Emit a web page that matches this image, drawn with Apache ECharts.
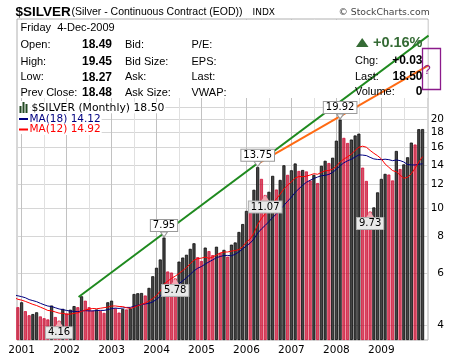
<!DOCTYPE html>
<html><head><meta charset="utf-8">
<script src="https://cdn.jsdelivr.net/npm/echarts@6/dist/echarts.min.js"></script>
<style>html,body{margin:0;padding:0;background:#fff}#c{width:460px;height:357px}</style>
</head><body><div id="c"></div>
<script>
// Monthly closes, Dec 2000 .. Dec 2009 (index 0 = Dec 2000)
const closes = [
  4.62,
  4.80, 4.48, 4.34, 4.38, 4.44, 4.30, 4.24, 4.20, 4.68, 4.28, 4.16, 4.56,
  4.40, 4.53, 4.66, 4.62, 5.03, 4.86, 4.62, 4.50, 4.54, 4.49, 4.42, 4.80,
  4.86, 4.58, 4.43, 4.56, 4.54, 4.58, 5.12, 5.15, 5.16, 5.06, 5.37, 5.88,
  6.28, 6.70, 7.95, 6.10, 6.05, 5.78, 6.59, 6.80, 6.95, 7.28, 7.60, 6.82,
  6.62, 7.35, 7.15, 6.93, 7.40, 7.05, 7.22, 6.85, 7.52, 7.65, 8.30, 8.83,
  9.78, 9.65, 11.53, 13.75, 12.55, 11.07, 11.35, 12.85, 11.55, 12.45, 13.95, 12.95,
  13.42, 14.15, 13.35, 13.45, 13.30, 12.40, 12.95, 12.15, 13.90, 14.45, 14.20, 14.80,
  16.90, 19.92, 17.27, 16.60, 17.05, 17.60, 17.85, 13.70, 12.35, 9.73, 10.05, 11.30,
  12.55, 13.05, 12.98, 12.40, 15.60, 13.55, 14.05, 14.85, 16.65, 16.40, 18.48, 18.50
];
// Closes before the visible window (Jun 1999 .. Nov 2000), used only for the moving averages
const priorCloses = [5.30, 5.40, 5.25, 5.60, 5.10, 5.15, 5.40, 5.20, 5.05, 5.00, 5.05, 4.95, 5.00, 4.90, 4.95, 4.85, 4.75, 4.65];
const yTicks = [4, 6, 8, 10, 12, 14, 16, 18, 20];
const yGrid = [4, 6, 8, 10, 12, 14, 16, 18, 20, 22];
const xYears = [2001, 2002, 2003, 2004, 2005, 2006, 2007, 2008, 2009];
// annotations: [monthIndex from Jan 2001, value]
const highMarks = [[38, 7.95], [63, 13.75], [85, 19.92]];
const lowMarks = [[10, 4.16], [41, 5.78], [65, 11.07], [93, 9.73]];
// trend lines: [monthIndex, value]
const greenTrend = [[15.2, 5.0], [108.6, 38.3]];
const orangeTrend = [[63.2, 14.17], [108.6, 30.4]];

const YMIN = 3.578, YMAX = 43.59;
const T = v => Math.log(v / YMIN);
const XMIN = -1.23, XMAX = 108.45;

const barData = closes.map((c, i) => {
  const prev = i === 0 ? priorCloses[priorCloses.length - 1] : closes[i - 1];
  const up = c >= prev;
  return {
    value: [i - 1, T(c)],
    itemStyle: up ? {color: '#464646', borderColor: '#0a0a0a', borderWidth: 0.8}
                  : {color: 'rgba(185,0,30,0.68)', borderColor: '#d80f3a', borderWidth: 0.8}
  };
});
const all = priorCloses.concat(closes);
function ma(n) {
  const out = [];
  for (let k = n - 1; k < all.length; k++) {
    let s = 0;
    for (let j = k - n + 1; j <= k; j++) s += all[j];
    const m = k - priorCloses.length - 1;
    if (m >= -2) out.push([m, T(s / n)]);
  }
  return out;
}

const gridMarks = [];
const ls = c => ({color: c, width: 1, type: 'solid'});
yGrid.forEach(v => gridMarks.push([{coord: [XMIN, T(v)], lineStyle: ls('#d6d6d6')}, {coord: [XMAX, T(v)]}]));
for (let m = 6; m <= 102; m += 12) gridMarks.push([{coord: [m, 0], lineStyle: ls('#e0e0e0')}, {coord: [m, T(YMAX)]}]);
xYears.forEach(y => gridMarks.push([{coord: [(y - 2001) * 12, 0], lineStyle: ls('#c2c2c2')}, {coord: [(y - 2001) * 12, T(YMAX)]}]));

const annot = [];
highMarks.forEach(([m, v]) => annot.push({
  coord: [m, T(v)], symbol: 'triangle', symbolSize: [7, 5], symbolRotate: 180, symbolOffset: [0, -3],
  itemStyle: {color: '#fff', borderColor: '#999', borderWidth: 1},
  label: {show: true, formatter: v.toFixed(2), offset: [0, -9], backgroundColor: '#fff', borderColor: '#9a9a9a', borderWidth: 1,
          padding: [1, 2, 0, 2], color: '#000', fontSize: 10, fontFamily: 'DejaVu Sans'}
}));
lowMarks.forEach(([m, v]) => annot.push({
  coord: [m, T(v)], symbol: 'triangle', symbolSize: [8, 6], symbolOffset: [0, 3],
  itemStyle: {color: '#f4aab4'},
  label: {show: true, formatter: v.toFixed(2), offset: [0, 9], backgroundColor: '#e9e9e9', borderColor: '#b0b0b0', borderWidth: 1,
          padding: [1, 2, 0, 2], color: '#000', fontSize: 10, fontFamily: 'DejaVu Sans'}
}));

const F = '"Liberation Sans", Arial, sans-serif';
const V = '"DejaVu Sans", Verdana, sans-serif';
function txt(x, y, s, font, fill, align, z) {
  return {type: 'text', x: x, y: y, z: z || 30, silent: true,
    style: {text: s, font: font, fill: fill || '#000', align: align || 'left', textAlign: align || 'left',
            verticalAlign: 'middle', textVerticalAlign: 'middle'}};
}
function btxt(x, y, s, font, fill) {
  return {type: 'text', x: x, y: y, z: 31, silent: true,
    style: {text: s, font: font, fill: fill, align: 'left', verticalAlign: 'middle', backgroundColor: '#fff', padding: [0, 1]}};
}

const graphics = [
  {type: 'rect', z: 10, silent: true, shape: {x: 18, y: 20, width: 409.5, height: 78}, style: {fill: '#fff'}},
  txt(15.5, 12, '$SILVER', 'bold 13.5px ' + F),
  txt(71.5, 12.5, '(Silver - Continuous Contract (EOD))', '10.5px ' + F),
  txt(252.5, 12.5, 'INDX', '9px ' + V),
  txt(338.5, 12.5, '\u00A9 StockCharts.com', '9.3px ' + V, '#444'),
  txt(20.5, 28, 'Friday  4-Dec-2009', '11px ' + F),
  txt(20.5, 45, 'Open:', '11px ' + F), txt(112, 45, '18.49', 'bold 12px ' + F, '#000', 'right'),
  txt(125, 45, 'Bid:', '11px ' + F), txt(191.5, 45, 'P/E:', '11px ' + F),
  txt(20.5, 61.5, 'High:', '11px ' + F), txt(112, 61.5, '19.45', 'bold 12px ' + F, '#000', 'right'),
  txt(125, 61.5, 'Bid Size:', '11px ' + F), txt(191.5, 61.5, 'EPS:', '11px ' + F),
  txt(20.5, 77.3, 'Low:', '11px ' + F), txt(112, 77.3, '18.27', 'bold 12px ' + F, '#000', 'right'),
  txt(125, 77.3, 'Ask:', '11px ' + F), txt(191.5, 77.3, 'Last:', '11px ' + F),
  txt(20.5, 93, 'Prev Close:', '11px ' + F), txt(112, 93, '18.48', 'bold 12px ' + F, '#000', 'right'),
  txt(125, 93, 'Ask Size:', '11px ' + F), txt(191.5, 93, 'VWAP:', '11px ' + F),
  {type: 'polygon', z: 30, silent: true, shape: {points: [[356, 47], [368.5, 47], [362.2, 38]]}, style: {fill: '#356b35'}},
  txt(422.5, 42.5, '+0.16%', 'bold 14.5px ' + F, '#356b35', 'right'),
  txt(355, 60.5, 'Chg:', '11px ' + F), txt(422.5, 60.5, '+0.03', 'bold 12px ' + F, '#000', 'right'),
  txt(355, 76.7, 'Last:', '11px ' + F), txt(422.5, 76.7, '18.50', 'bold 12px ' + F, '#000', 'right'),
  txt(355, 92, 'Volume:', '11px ' + F), txt(422.5, 92, '0', 'bold 12px ' + F, '#000', 'right'),
  {type: 'rect', z: 32, silent: true, shape: {x: 422.5, y: 48.5, width: 18, height: 41}, style: {fill: 'none', stroke: '#8b1a8b', lineWidth: 1.3}},
  txt(423.5, 70.5, '?', '13px ' + F, '#8b1a8b'),
  {type: 'rect', z: 29, silent: true, shape: {x: 18, y: 101, width: 12, height: 33}, style: {fill: '#fff'}},
  {type: 'rect', z: 31, silent: true, shape: {x: 19.5, y: 106, width: 2, height: 7}, style: {fill: '#234a23'}},
  {type: 'rect', z: 31, silent: true, shape: {x: 22.5, y: 102, width: 2, height: 11}, style: {fill: '#234a23'}},
  {type: 'rect', z: 31, silent: true, shape: {x: 25.5, y: 104, width: 2, height: 9}, style: {fill: '#234a23'}},
  btxt(30.5, 107.7, '$SILVER (Monthly) 18.50', '10.8px ' + V, '#000'),
  {type: 'rect', z: 31, silent: true, shape: {x: 19, y: 118, width: 9, height: 2}, style: {fill: '#000080'}},
  btxt(28.5, 119, 'MA(18) 14.12', '10.5px ' + V, '#000080'),
  {type: 'rect', z: 31, silent: true, shape: {x: 19, y: 128.5, width: 9, height: 2}, style: {fill: '#ff0000'}},
  btxt(28.5, 129.5, 'MA(12) 14.92', '10.5px ' + V, '#ff0000')
];

const chart = echarts.init(document.getElementById('c'), null, {renderer: 'canvas'});
chart.setOption({
  animation: false,
  backgroundColor: '#fff',
  grid: {left: 17, right: 32, top: 19, bottom: 17, show: true, borderColor: '#b0b0b0', borderWidth: 1,
         containLabel: false, outerBoundsMode: 'none'},
  xAxis: {type: 'value', min: XMIN, max: XMAX,
    axisLine: {show: false}, axisTick: {show: false}, splitLine: {show: false},
    axisLabel: {customValues: xYears.map(y => (y - 2001) * 12), formatter: v => String(2001 + Math.round(v / 12)),
                color: '#000', fontFamily: 'DejaVu Sans', fontSize: 10.5, margin: 5}},
  yAxis: {type: 'value', position: 'right', min: 0, max: T(YMAX),
    axisLine: {show: false}, splitLine: {show: false},
    axisTick: {show: true, customValues: yTicks.map(T), length: 3, lineStyle: {color: '#999'}},
    axisLabel: {customValues: yTicks.map(T), formatter: v => String(Math.round(YMIN * Math.exp(v))),
                align: 'right', margin: 16, color: '#000', fontFamily: 'DejaVu Sans', fontSize: 10.5}},
  graphic: graphics,
  series: [
    {type: 'line', data: [[XMIN, 0]], symbol: 'none', lineStyle: {opacity: 0}, z: 1, silent: true,
     markLine: {silent: true, z: 1, symbol: ['none', 'none'], label: {show: false}, animation: false, data: gridMarks}},
    {type: 'bar', data: barData, barWidth: 3.1, z: 2, clip: true, silent: true},
    {type: 'line', data: ma(18), symbol: 'none', z: 3, clip: true, lineStyle: {color: '#000080', width: 1}, silent: true},
    {type: 'line', data: ma(12), symbol: 'none', z: 3, clip: true, lineStyle: {color: '#ff0000', width: 1}, silent: true},
    {type: 'line', data: greenTrend.map(([m, v]) => [m, T(v)]), symbol: 'none', z: 20, clip: true, lineStyle: {color: '#1f8a1f', width: 2}, silent: true},
    {type: 'line', data: orangeTrend.map(([m, v]) => [m, T(v)]), symbol: 'none', z: 20, clip: true, lineStyle: {color: '#ff6a13', width: 2}, silent: true},
    {type: 'scatter', data: [], z: 25, silent: true, markPoint: {silent: true, z: 25, animation: false, data: annot}}
  ]
});
</script>
</body></html>
